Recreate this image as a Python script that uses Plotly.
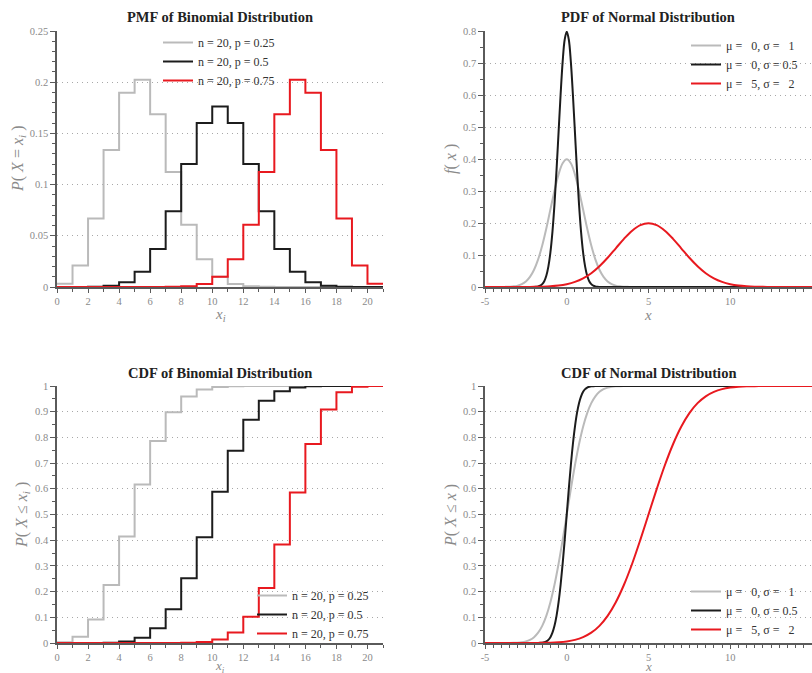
import numpy as np
import plotly.graph_objects as go

# ---------------- data ----------------
k_vals = list(range(21))
pmf_p025 = [0.0032, 0.0211, 0.0669, 0.1339, 0.1897, 0.2023, 0.1686, 0.1124, 0.0609, 0.0271,
            0.0099, 0.0030, 0.0008, 0.0002, 0.0000, 0.0, 0.0, 0.0, 0.0, 0.0, 0.0]
pmf_p050 = [0.0000, 0.0000, 0.0002, 0.0011, 0.0046, 0.0148, 0.0370, 0.0739, 0.1201, 0.1602,
            0.1762, 0.1602, 0.1201, 0.0739, 0.0370, 0.0148, 0.0046, 0.0011, 0.0002, 0.0000, 0.0000]
pmf_p075 = [0.0, 0.0, 0.0, 0.0, 0.0, 0.0, 0.0000, 0.0002, 0.0008, 0.0030,
            0.0099, 0.0271, 0.0609, 0.1124, 0.1686, 0.2023, 0.1897, 0.1339, 0.0669, 0.0211, 0.0032]

cdf_p025 = [0.0032, 0.0243, 0.0913, 0.2252, 0.4148, 0.6172, 0.7858, 0.8982, 0.9591, 0.9861,
            0.9961, 0.9991, 0.9998, 1.0000, 1.0, 1.0, 1.0, 1.0, 1.0, 1.0, 1.0]
cdf_p050 = [0.0000, 0.0000, 0.0002, 0.0013, 0.0059, 0.0207, 0.0577, 0.1316, 0.2517, 0.4119,
            0.5881, 0.7483, 0.8684, 0.9423, 0.9793, 0.9941, 0.9987, 0.9998, 1.0000, 1.0000, 1.0000]
cdf_p075 = [0.0, 0.0, 0.0, 0.0, 0.0, 0.0, 0.0000, 0.0002, 0.0009, 0.0039,
            0.0139, 0.0409, 0.1018, 0.2142, 0.3828, 0.5852, 0.7748, 0.9087, 0.9757, 0.9968, 1.0000]

binom_labels = ["n = 20, p = 0.25", "n = 20, p = 0.5", "n = 20, p = 0.75"]
normal_labels = ["\u03bc = \u00a0\u00a00, \u03c3 = \u00a0\u00a01",
                 "\u03bc = \u00a0\u00a00, \u03c3 = 0.5",
                 "\u03bc = \u00a0\u00a05, \u03c3 = \u00a0\u00a02"]

# sample positions of the normal curves
x_n01 = [-5.0] + list(np.arange(-4.0, 4.001, 0.25)) + [15.0]
x_n005 = [-5.0] + list(np.arange(-2.0, 2.001, 0.125)) + [15.0]
x_n52 = [-5.0] + list(np.arange(-3.0, 13.001, 0.5)) + [15.0]

pdf_n01 = [0.0, 0.0001, 0.0004, 0.0009, 0.0020, 0.0044, 0.0091, 0.0175, 0.0317, 0.0540, 0.0863,
           0.1295, 0.1826, 0.2420, 0.3011, 0.3521, 0.3867, 0.3989, 0.3867, 0.3521, 0.3011,
           0.2420, 0.1826, 0.1295, 0.0863, 0.0540, 0.0317, 0.0175, 0.0091, 0.0044, 0.0020,
           0.0009, 0.0004, 0.0001, 0.0]
pdf_n005 = [0.0, 0.0003, 0.0007, 0.0018, 0.0041, 0.0089, 0.0182, 0.0350, 0.0635, 0.1080, 0.1725,
            0.2590, 0.3653, 0.4839, 0.6022, 0.7041, 0.7734, 0.7979, 0.7734, 0.7041, 0.6022,
            0.4839, 0.3653, 0.2590, 0.1725, 0.1080, 0.0635, 0.0350, 0.0182, 0.0089, 0.0041,
            0.0018, 0.0007, 0.0003, 0.0]
pdf_n52 = [0.0, 0.0001, 0.0002, 0.0004, 0.0010, 0.0022, 0.0045, 0.0088, 0.0159, 0.0270, 0.0431,
           0.0648, 0.0913, 0.1210, 0.1506, 0.1760, 0.1933, 0.1995, 0.1933, 0.1760, 0.1506,
           0.1210, 0.0913, 0.0648, 0.0431, 0.0270, 0.0159, 0.0088, 0.0045, 0.0022, 0.0010,
           0.0004, 0.0002, 0.0001, 0.0]

cdf_n01 = [0.0, 0.0000, 0.0001, 0.0002, 0.0006, 0.0013, 0.0030, 0.0062, 0.0122, 0.0228, 0.0401,
           0.0668, 0.1056, 0.1587, 0.2266, 0.3085, 0.4013, 0.5000, 0.5987, 0.6915, 0.7734,
           0.8413, 0.8944, 0.9332, 0.9599, 0.9772, 0.9878, 0.9938, 0.9970, 0.9987, 0.9994,
           0.9998, 0.9999, 1.0000, 1.0]
cdf_n005 = list(cdf_n01)
cdf_n52 = list(cdf_n01)

normal_ticks = [-5, 0, 5, 10, 15]
normal_ticktext = ["-5", "0", "5", "10", "15"]

# ---------------- style ----------------
W, H = 812, 673
COLORS = ["#bababa", "#1c1c1c", "#e8191f"]
SERIF = "Liberation Serif, Times New Roman, serif"
AXC = "#5a5a5a"
TICKC = "#8a8a8a"

def px_x(p):
    return p / W

def px_y(p):
    return 1 - p / H

fig = go.Figure()

def stairs(xs, ys):
    return list(xs) + [21], list(ys) + [ys[-1]]

# PMF binomial (top-left)
for i, ser in enumerate([pmf_p025, pmf_p050, pmf_p075]):
    xs, ys = stairs(k_vals, ser)
    fig.add_trace(go.Scatter(x=xs, y=ys, mode="lines", line=dict(shape="hv", color=COLORS[i], width=2),
                             name=binom_labels[i], xaxis="x", yaxis="y", legend="legend"))
# PDF normal (top-right)
for i, (xs, ys) in enumerate([(x_n01, pdf_n01), (x_n005, pdf_n005), (x_n52, pdf_n52)]):
    fig.add_trace(go.Scatter(x=xs, y=ys, mode="lines", line=dict(shape="spline", color=COLORS[i], width=2),
                             name=normal_labels[i], xaxis="x2", yaxis="y2", legend="legend2"))
# CDF binomial (bottom-left)
for i, ser in enumerate([cdf_p025, cdf_p050, cdf_p075]):
    xs, ys = stairs(k_vals, ser)
    fig.add_trace(go.Scatter(x=xs, y=ys, mode="lines", line=dict(shape="hv", color=COLORS[i], width=2),
                             name=binom_labels[i], xaxis="x3", yaxis="y3", legend="legend3"))
# CDF normal (bottom-right)
for i, (xs, ys) in enumerate([(x_n01, cdf_n01), (x_n005, cdf_n005), (x_n52, cdf_n52)]):
    fig.add_trace(go.Scatter(x=xs, y=ys, mode="lines", line=dict(shape="spline", color=COLORS[i], width=2),
                             name=normal_labels[i], xaxis="x4", yaxis="y4", legend="legend4"))

dom_left = [px_x(57), px_x(383)]
dom_right = [px_x(485), 1.0]
dom_top = [px_y(287), px_y(31)]
dom_bot = [px_y(643), px_y(386)]

def xaxis(domain, anchor, rng, dtick, minor, tickvals=None, ticktext=None):
    d = dict(domain=domain, anchor=anchor, range=rng, showline=True, linecolor=AXC, linewidth=1.5,
             ticks="outside", ticklen=4, tickcolor=AXC, tickwidth=1, showgrid=False, zeroline=False,
             tickfont=dict(family=SERIF, size=10.5, color=TICKC), layer="below traces",
             automargin=False,
             minor=dict(dtick=minor, ticks="outside", ticklen=3, tickcolor=AXC, showgrid=False))
    if tickvals is not None:
        d.update(tickmode="array", tickvals=tickvals, ticktext=ticktext)
    else:
        d.update(tick0=0, dtick=dtick)
    return d

def yaxis(domain, anchor, rng, dtick, minor):
    return dict(domain=domain, anchor=anchor, range=rng, showline=True, linecolor=AXC, linewidth=1.5,
                ticks="outside", ticklen=5, tickcolor=AXC, tickwidth=1, tick0=0, dtick=dtick,
                showgrid=True, gridcolor="#a8a8a8", griddash="1px,4px", gridwidth=1, zeroline=False,
                tickfont=dict(family=SERIF, size=10.5, color=TICKC), layer="below traces",
                automargin=False,
                minor=dict(dtick=minor, ticks="outside", ticklen=3, tickcolor=AXC, showgrid=False))

legend_font = dict(family=SERIF, size=12, color="#333333")

def legend(xpx, ypx):
    return dict(x=px_x(xpx), y=px_y(ypx), xanchor="left", yanchor="top", bgcolor="rgba(0,0,0,0)",
                font=legend_font, borderwidth=0)

fig.update_layout(
    width=W, height=H, margin=dict(l=0, r=0, t=0, b=0, pad=0, autoexpand=False),
    paper_bgcolor="white", plot_bgcolor="white",
    xaxis=xaxis(dom_left, "y", [0, 21], 2, 1),
    yaxis=yaxis(dom_top, "x", [0, 0.25], 0.05, 0.01),
    xaxis2=xaxis(dom_right, "y2", [-5, 15], 5, 0.5, normal_ticks, normal_ticktext),
    yaxis2=yaxis(dom_top, "x2", [0, 0.8], 0.1, 0.05),
    xaxis3=xaxis(dom_left, "y3", [0, 21], 2, 1),
    yaxis3=yaxis(dom_bot, "x3", [0, 1], 0.1, 0.05),
    xaxis4=xaxis(dom_right, "y4", [-5, 15], 5, 0.5, normal_ticks, normal_ticktext),
    yaxis4=yaxis(dom_bot, "x4", [0, 1], 0.1, 0.05),
    legend=legend(158, 28),
    legend2=legend(686, 31),
    legend3=legend(252, 581),
    legend4=legend(686, 577),
    showlegend=True,
)

title_font = dict(family=SERIF, size=14.5, color="#222222")
math_font = dict(family=SERIF, size=15, color="#8a8a8a")
math_font_b = dict(family=SERIF, size=13, color="#8a8a8a")
ylab_font = dict(family=SERIF, size=16, color="#8a8a8a")
anns = [
    dict(text="<b>PMF of Binomial Distribution</b>", x=px_x(220), y=px_y(17), font=title_font),
    dict(text="<b>PDF of Normal Distribution</b>", x=px_x(648), y=px_y(17), font=title_font),
    dict(text="<b>CDF of Binomial Distribution</b>", x=px_x(220), y=px_y(373), font=title_font),
    dict(text="<b>CDF of Normal Distribution</b>", x=px_x(648), y=px_y(373), font=title_font),
    dict(text="<i>x<sub>i</sub></i>", x=px_x(220), y=px_y(315), font=math_font),
    dict(text="<i>x</i>", x=px_x(648), y=px_y(315), font=math_font),
    dict(text="<i>x<sub>i</sub></i>", x=px_x(220), y=px_y(666), font=math_font_b),
    dict(text="<i>x</i>", x=px_x(648), y=px_y(666), font=math_font_b),
    dict(text="<i>P</i>( <i>X</i> = <i>x<sub>i</sub></i> )", x=px_x(18), y=px_y(159), font=ylab_font, textangle=-90),
    dict(text="<i>f</i>( <i>x</i> )", x=px_x(451), y=px_y(159), font=ylab_font, textangle=-90),
    dict(text="<i>P</i>( <i>X</i> \u2264 <i>x<sub>i</sub></i> )", x=px_x(22), y=px_y(515), font=ylab_font, textangle=-90),
    dict(text="<i>P</i>( <i>X</i> \u2264 <i>x</i> )", x=px_x(451), y=px_y(515), font=ylab_font, textangle=-90),
]
for a in anns:
    a.update(xref="paper", yref="paper", showarrow=False, xanchor="center", yanchor="middle")
fig.update_layout(annotations=anns)

fig.write_html("out.html", config={"displayModeBar": False},
               post_script="document.body.style.margin='0px';")
